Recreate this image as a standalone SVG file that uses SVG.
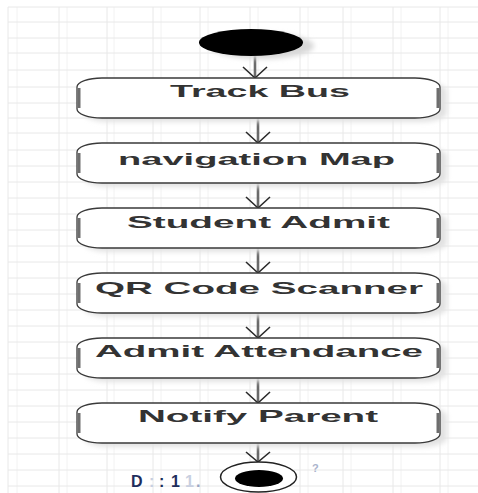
<svg xmlns="http://www.w3.org/2000/svg" width="478" height="493" viewBox="0 0 478 493">
<defs>
<style>
.grid line{stroke:#e8e8e8;stroke-width:1}
.gridm line{stroke:#f2f2f2;stroke-width:1}
.box{fill:#fff;stroke:#3a3a3a;stroke-width:1.3}
.side{fill:none;stroke:#6e6e6e;stroke-width:3}
.shadow{fill:#e2e2e2}
.lbl{font-family:"Liberation Sans",Arial,sans-serif;font-weight:bold;font-size:17px;fill:#333}
.edge{stroke:#6a6a6a;stroke-width:2.6;fill:none}
.head{stroke:#2a2a2a;stroke-width:1.6;fill:none}
.wm{font-family:"Liberation Sans",Arial,sans-serif;font-weight:bold;font-size:16px;fill:#1e2d5c}
</style>
<filter id="blur" x="-20%" y="-50%" width="140%" height="200%"><feGaussianBlur stdDeviation="2.5"/></filter>
</defs>
<rect width="478" height="493" fill="#fff"/>
<g class="gridm">
<line x1="17" y1="7" x2="17" y2="493"/><line x1="67" y1="7" x2="67" y2="493"/><line x1="114" y1="7" x2="114" y2="493"/><line x1="161" y1="7" x2="161" y2="493"/><line x1="208" y1="7" x2="208" y2="493"/><line x1="258" y1="7" x2="258" y2="493"/><line x1="308" y1="7" x2="308" y2="493"/><line x1="351" y1="7" x2="351" y2="493"/><line x1="401" y1="7" x2="401" y2="493"/><line x1="448" y1="7" x2="448" y2="493"/>
</g>
<g class="grid">
<line x1="8" y1="7" x2="8" y2="493"/><line x1="59" y1="7" x2="59" y2="493"/><line x1="107" y1="7" x2="107" y2="493"/><line x1="153" y1="7" x2="153" y2="493"/><line x1="200" y1="7" x2="200" y2="493"/><line x1="250" y1="7" x2="250" y2="493"/><line x1="300" y1="7" x2="300" y2="493"/><line x1="343" y1="7" x2="343" y2="493"/><line x1="393" y1="7" x2="393" y2="493"/><line x1="440" y1="7" x2="440" y2="493"/>
<line x1="8" y1="7" x2="478" y2="7"/><line x1="8" y1="22" x2="478" y2="22"/><line x1="8" y1="38" x2="478" y2="38"/><line x1="8" y1="53" x2="478" y2="53"/><line x1="8" y1="70" x2="478" y2="70"/><line x1="8" y1="87" x2="478" y2="87"/><line x1="8" y1="103" x2="478" y2="103"/><line x1="8" y1="118" x2="478" y2="118"/><line x1="8" y1="133" x2="478" y2="133"/><line x1="8" y1="150" x2="478" y2="150"/><line x1="8" y1="166" x2="478" y2="166"/><line x1="8" y1="182" x2="478" y2="182"/><line x1="8" y1="198" x2="478" y2="198"/><line x1="8" y1="214" x2="478" y2="214"/><line x1="8" y1="230" x2="478" y2="230"/><line x1="8" y1="246" x2="478" y2="246"/><line x1="8" y1="262" x2="478" y2="262"/><line x1="8" y1="278" x2="478" y2="278"/><line x1="8" y1="294" x2="478" y2="294"/><line x1="8" y1="310" x2="478" y2="310"/><line x1="8" y1="326" x2="478" y2="326"/><line x1="8" y1="342" x2="478" y2="342"/><line x1="8" y1="358" x2="478" y2="358"/><line x1="8" y1="374" x2="478" y2="374"/><line x1="8" y1="390" x2="478" y2="390"/><line x1="8" y1="406" x2="478" y2="406"/><line x1="8" y1="422" x2="478" y2="422"/><line x1="8" y1="438" x2="478" y2="438"/><line x1="8" y1="454" x2="478" y2="454"/><line x1="8" y1="470" x2="478" y2="470"/><line x1="8" y1="486" x2="478" y2="486"/>
</g>

<g id="connectors">
<line class="edge" x1="255" y1="56" x2="255" y2="77"/><polyline class="head" points="243,67 255,78 267,67"/>
<line class="edge" x1="258" y1="118" x2="258" y2="142"/><polyline class="head" points="246,132 258,143 270,132"/>
<line class="edge" x1="258" y1="183" x2="258" y2="207"/><polyline class="head" points="246,197 258,208 270,197"/>
<line class="edge" x1="258" y1="248" x2="258" y2="272"/><polyline class="head" points="246,262 258,273 270,262"/>
<line class="edge" x1="258" y1="313" x2="258" y2="337"/><polyline class="head" points="246,327 258,338 270,327"/>
<line class="edge" x1="258" y1="378" x2="258" y2="402"/><polyline class="head" points="246,392 258,403 270,392"/>
<line class="edge" x1="258" y1="443" x2="258" y2="461"/><polyline class="head" points="246,452 258,462 270,452"/>
</g>

<g id="start">
<ellipse cx="262" cy="46" rx="52" ry="13" fill="#d8d8d8" filter="url(#blur)"/>
<ellipse cx="251" cy="42.5" rx="52" ry="13.5" fill="#000"/>
</g>

<g id="n1">
<rect class="shadow" x="84" y="82" width="363" height="40" rx="25" ry="9" filter="url(#blur)"/>
<rect class="box" x="77" y="78" width="363" height="40" rx="25" ry="9"/>
<path class="side" d="M79 88 V108 M438 88 V108"/>
<text class="lbl" x="170" y="97" textLength="180" lengthAdjust="spacingAndGlyphs">Track Bus</text>
</g>
<g id="n2">
<rect class="shadow" x="84" y="147" width="363" height="40" rx="25" ry="9" filter="url(#blur)"/>
<rect class="box" x="77" y="143" width="363" height="40" rx="25" ry="9"/>
<path class="side" d="M79 153 V173 M438 153 V173"/>
<text class="lbl" x="118" y="165" textLength="277" lengthAdjust="spacingAndGlyphs">navigation Map</text>
</g>
<g id="n3">
<rect class="shadow" x="84" y="212" width="363" height="40" rx="25" ry="9" filter="url(#blur)"/>
<rect class="box" x="77" y="208" width="363" height="40" rx="25" ry="9"/>
<path class="side" d="M79 218 V238 M438 218 V238"/>
<text class="lbl" x="127" y="228" textLength="263" lengthAdjust="spacingAndGlyphs">Student Admit</text>
</g>
<g id="n4">
<rect class="shadow" x="84" y="277" width="363" height="40" rx="25" ry="9" filter="url(#blur)"/>
<rect class="box" x="77" y="273" width="363" height="40" rx="25" ry="9"/>
<path class="side" d="M79 283 V303 M438 283 V303"/>
<text class="lbl" x="95" y="294" textLength="328" lengthAdjust="spacingAndGlyphs">QR Code Scanner</text>
</g>
<g id="n5">
<rect class="shadow" x="84" y="342" width="363" height="40" rx="25" ry="9" filter="url(#blur)"/>
<rect class="box" x="77" y="338" width="363" height="40" rx="25" ry="9"/>
<path class="side" d="M79 348 V368 M438 348 V368"/>
<text class="lbl" x="95" y="357" textLength="328" lengthAdjust="spacingAndGlyphs">Admit Attendance</text>
</g>
<g id="n6">
<rect class="shadow" x="84" y="407" width="363" height="40" rx="25" ry="9" filter="url(#blur)"/>
<rect class="box" x="77" y="403" width="363" height="40" rx="25" ry="9"/>
<path class="side" d="M79 413 V433 M438 413 V433"/>
<text class="lbl" x="138" y="422" textLength="240" lengthAdjust="spacingAndGlyphs">Notify Parent</text>
</g>

<g id="end">
<ellipse cx="258.5" cy="477" rx="38" ry="15" fill="#fff" stroke="#222" stroke-width="1.5"/>
<ellipse cx="259" cy="478.5" rx="24" ry="8.5" fill="#000"/>
</g>

<g id="watermark">
<text class="wm" x="131" y="487">D</text>
<text class="wm" x="149" y="487" style="fill:#c8cfe0">:</text>
<text class="wm" x="159" y="487">:</text>
<text class="wm" x="171" y="487">1</text>
<text class="wm" x="185" y="487" style="fill:#c8cfe0">1</text>
<text class="wm" x="196" y="487" style="fill:#9aa6c4">.</text>
<text class="wm" x="312" y="472" style="fill:#aab3cc;font-size:11px">?</text>
</g>
</svg>
